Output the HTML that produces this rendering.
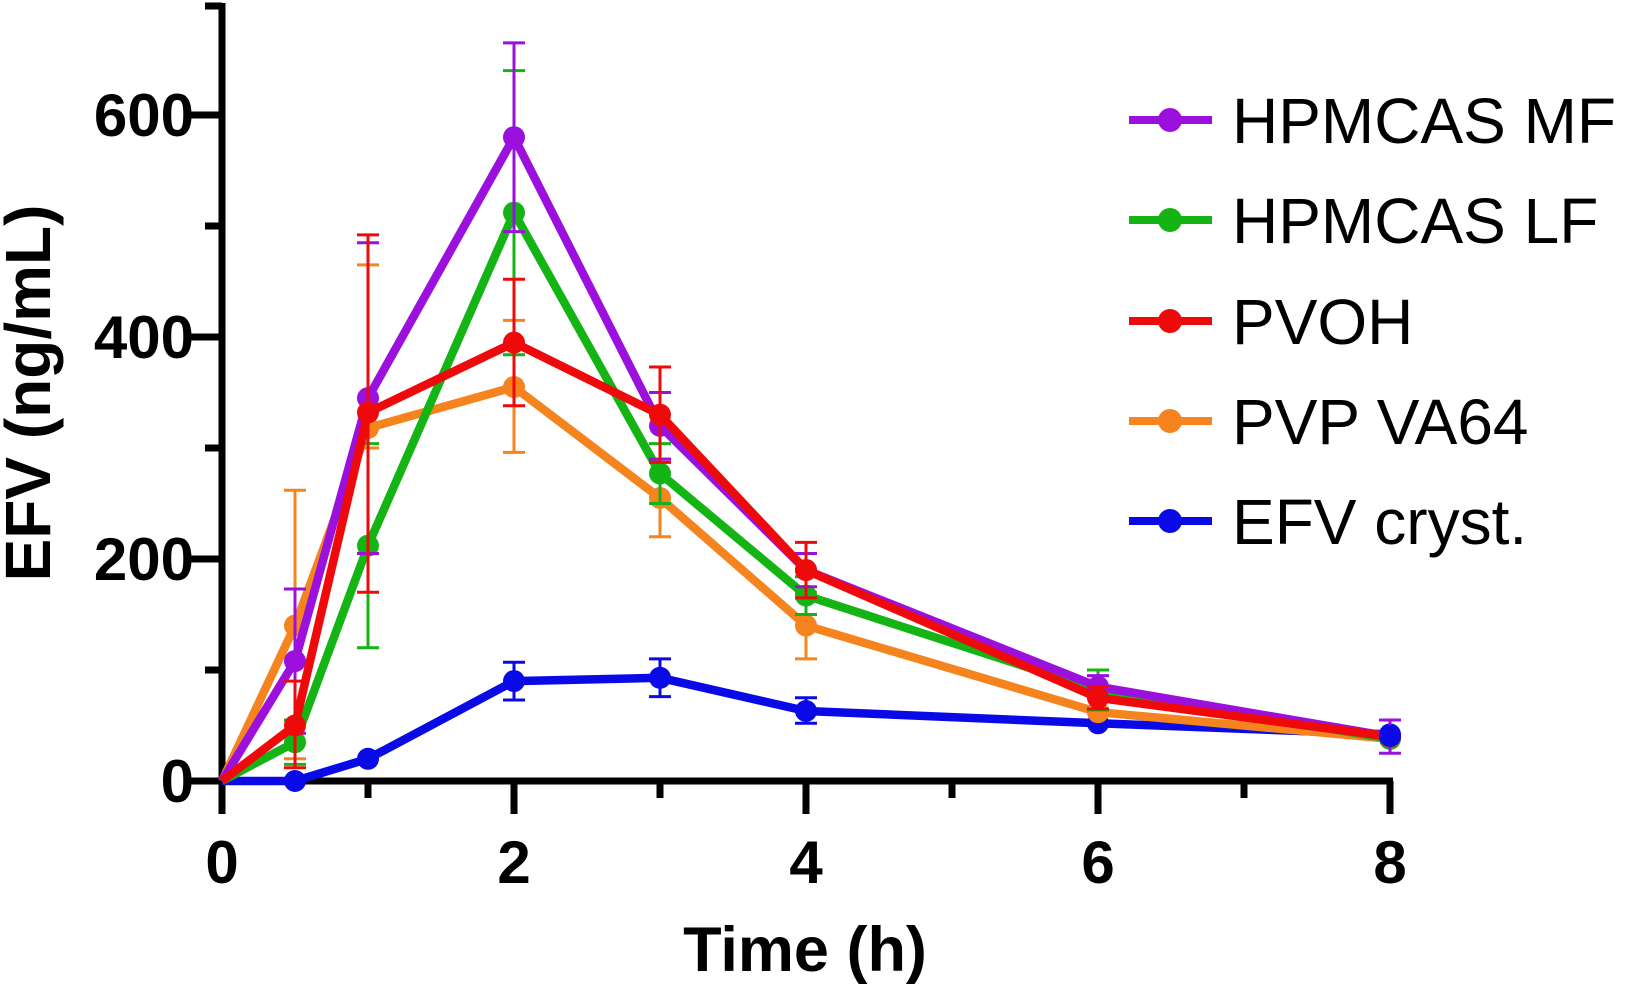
<!DOCTYPE html>
<html><head><meta charset="utf-8"><style>
html,body{margin:0;padding:0;background:#fff;}
svg{display:block;}
text{font-family:"Liberation Sans",Arial,sans-serif;}
</style></head><body>
<svg width="1634" height="987" viewBox="0 0 1634 987" xmlns="http://www.w3.org/2000/svg">
<rect width="1634" height="987" fill="#fff"/>
<!-- axes -->
<g stroke="#000" stroke-width="7" fill="none">
<line x1="222" y1="3" x2="222" y2="784"/>
<line x1="218.5" y1="781" x2="1393" y2="781"/>
<line x1="188" y1="781" x2="222" y2="781"/>
<line x1="205" y1="670" x2="222" y2="670"/>
<line x1="188" y1="559" x2="222" y2="559"/>
<line x1="205" y1="448" x2="222" y2="448"/>
<line x1="188" y1="337" x2="222" y2="337"/>
<line x1="205" y1="226" x2="222" y2="226"/>
<line x1="188" y1="115" x2="222" y2="115"/>
<line x1="205" y1="6" x2="222" y2="6"/>
<line x1="222" y1="781" x2="222" y2="814"/>
<line x1="514" y1="781" x2="514" y2="814"/>
<line x1="806" y1="781" x2="806" y2="814"/>
<line x1="1098" y1="781" x2="1098" y2="814"/>
<line x1="1390" y1="781" x2="1390" y2="814"/>
<line x1="368" y1="781" x2="368" y2="798"/>
<line x1="660" y1="781" x2="660" y2="798"/>
<line x1="952" y1="781" x2="952" y2="798"/>
<line x1="1244" y1="781" x2="1244" y2="798"/>
</g>
<g font-size="60" font-weight="bold" fill="#000" text-anchor="end">
<text x="194" y="802">0</text>
<text x="194" y="580">200</text>
<text x="194" y="358">400</text>
<text x="194" y="136">600</text>
</g>
<g font-size="60" font-weight="bold" fill="#000" text-anchor="middle">
<text x="222" y="883">0</text>
<text x="514" y="883">2</text>
<text x="806" y="883">4</text>
<text x="1098" y="883">6</text>
<text x="1390" y="883">8</text>
</g>
<text x="805" y="971" font-size="63" font-weight="bold" text-anchor="middle">Time (h)</text>
<text transform="translate(50,393) rotate(-90)" font-size="64" font-weight="bold" text-anchor="middle">EFV (ng/mL)</text>

<!-- EFV cryst -->
<g stroke="#0a0ae6" fill="#0a0ae6">
<path fill="none" stroke-width="3" d="M503 662.2H525M514 662.2V700M503 700H525 M649 658.9H671M660 658.9V696.6M649 696.6H671 M795 697.8H817M806 697.8V723.3M795 723.3H817"/>
<polyline fill="none" stroke-width="8.5" stroke-linejoin="round" points="222,781 295,781 368,758.8 514,681.1 660,677.8 806,711 1098,723.3 1390,734.4"/>
<g stroke="none"><circle cx="295" cy="781" r="11"/><circle cx="368" cy="758.8" r="11"/><circle cx="514" cy="681.1" r="11"/><circle cx="660" cy="677.8" r="11"/><circle cx="806" cy="711" r="11"/><circle cx="1098" cy="723.3" r="11"/><circle cx="1390" cy="734.4" r="11"/></g>
</g>
<!-- PVP VA64 -->
<g stroke="#f5841f" fill="#f5841f">
<path fill="none" stroke-width="3" d="M284 490.2H306M295 490.2V758.8M284 758.8H306 M357 264.9H379M368 264.9V448M357 448H379 M503 320.4H525M514 320.4V452.4M503 452.4H525 M649 459.1H671M660 459.1V536.8M649 536.8H671 M795 592.3H817M806 592.3V658.9M795 658.9H817"/>
<polyline fill="none" stroke-width="8.5" stroke-linejoin="round" points="222,781 295,625.6 368,428 514,387 660,498 806,625.6 1098,712.2 1390,738.8"/>
<g stroke="none"><circle cx="295" cy="625.6" r="11"/><circle cx="368" cy="428" r="11"/><circle cx="514" cy="387" r="11"/><circle cx="660" cy="498" r="11"/><circle cx="806" cy="625.6" r="11"/><circle cx="1098" cy="712.2" r="11"/><circle cx="1390" cy="738.8" r="11"/></g>
</g>
<!-- HPMCAS LF -->
<g stroke="#14b414" fill="#14b414">
<path fill="none" stroke-width="3" d="M284 720H306M295 720V764.4M284 764.4H306 M357 443.6H379M368 443.6V647.8M357 647.8H379 M503 70.6H525M514 70.6V354.8M503 354.8H525 M649 443.6H671M660 443.6V503.5M649 503.5H671 M795 576.8H817M806 576.8V614.5M795 614.5H817 M1087 670H1109M1098 670V710M1087 710H1109"/>
<polyline fill="none" stroke-width="8.5" stroke-linejoin="round" points="222,781 295,742.2 368,545.7 514,212.7 660,473.5 806,595.6 1098,690 1390,738.8"/>
<g stroke="none"><circle cx="295" cy="742.2" r="11"/><circle cx="368" cy="545.7" r="11"/><circle cx="514" cy="212.7" r="11"/><circle cx="660" cy="473.5" r="11"/><circle cx="806" cy="595.6" r="11"/><circle cx="1098" cy="690" r="11"/><circle cx="1390" cy="738.8" r="11"/></g>
</g>
<!-- HPMCAS MF -->
<g stroke="#9b10dc" fill="#9b10dc">
<path fill="none" stroke-width="3" d="M284 589H306M295 589V733.3M284 733.3H306 M357 242.7H379M368 242.7V553.5M357 553.5H379 M503 42.9H525M514 42.9V231.6M503 231.6H525 M649 392.5H671M660 392.5V459.1M649 459.1H671 M795 553.5H817M806 553.5V586.8M795 586.8H817 M1087 675.6H1109M1098 675.6V697.8M1087 697.8H1109 M1379 720H1401M1390 720V753.3M1379 753.3H1401"/>
<polyline fill="none" stroke-width="8.5" stroke-linejoin="round" points="222,781 295,661.1 368,398.1 514,137.2 660,425.8 806,570.1 1098,686.7 1390,736.6"/>
<g stroke="none"><circle cx="295" cy="661.1" r="11"/><circle cx="368" cy="398.1" r="11"/><circle cx="514" cy="137.2" r="11"/><circle cx="660" cy="425.8" r="11"/><circle cx="806" cy="570.1" r="11"/><circle cx="1098" cy="686.7" r="11"/><circle cx="1390" cy="736.6" r="11"/></g>
</g>
<!-- PVOH -->
<g stroke="#ee0a0a" fill="#ee0a0a">
<path fill="none" stroke-width="3" d="M284 681.1H306M295 681.1V767.7M284 767.7H306 M357 234.9H379M368 234.9V592.3M357 592.3H379 M503 279.3H525M514 279.3V405.8M503 405.8H525 M649 367H671M660 367V462.4M649 462.4H671 M795 542.4H817M806 542.4V597.9M795 597.9H817 M1087 686.7H1109M1098 686.7V708.9M1087 708.9H1109"/>
<polyline fill="none" stroke-width="8.5" stroke-linejoin="round" points="222,781 295,725.5 368,412.5 514,342.6 660,414.7 806,570.1 1098,697.8 1390,736.6"/>
<g stroke="none"><circle cx="295" cy="725.5" r="11"/><circle cx="368" cy="412.5" r="11"/><circle cx="514" cy="342.6" r="11"/><circle cx="660" cy="414.7" r="11"/><circle cx="806" cy="570.1" r="11"/><circle cx="1098" cy="697.8" r="11"/><circle cx="1390" cy="736.6" r="11"/></g>
</g>
<circle cx="1390" cy="736" r="11" fill="#0a0ae6"/>

<!-- legend -->
<g stroke-width="8">
<line x1="1129" y1="120" x2="1212" y2="120" stroke="#9b10dc"/><circle cx="1170" cy="120" r="12" fill="#9b10dc"/>
<line x1="1129" y1="220" x2="1212" y2="220" stroke="#14b414"/><circle cx="1170" cy="220" r="12" fill="#14b414"/>
<line x1="1129" y1="321" x2="1212" y2="321" stroke="#ee0a0a"/><circle cx="1170" cy="321" r="12" fill="#ee0a0a"/>
<line x1="1129" y1="421" x2="1212" y2="421" stroke="#f5841f"/><circle cx="1170" cy="421" r="12" fill="#f5841f"/>
<line x1="1129" y1="521" x2="1212" y2="521" stroke="#0a0ae6"/><circle cx="1170" cy="521" r="12" fill="#0a0ae6"/>
</g>
<g font-size="64" fill="#000">
<text x="1232" y="143">HPMCAS MF</text>
<text x="1232" y="243">HPMCAS LF</text>
<text x="1232" y="344">PVOH</text>
<text x="1232" y="444">PVP VA64</text>
<text x="1232" y="544">EFV cryst.</text>
</g>
</svg>
</body></html>
